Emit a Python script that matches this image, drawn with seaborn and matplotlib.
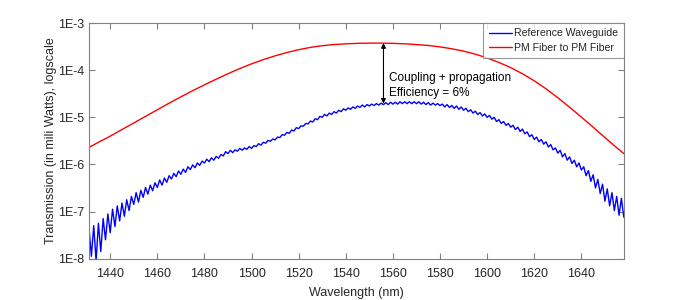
"""
Transmission spectrum: reference waveguide vs PM fiber-to-fiber
Output: out.png
"""

import matplotlib.pyplot as plt
import matplotlib.ticker as mticker
import numpy as np
import pandas as pd
import seaborn as sns

# Red curve (PM fiber to PM fiber), log10 of mW, read every 5 nm
red_wl = [1431, 1435, 1440, 1445, 1450, 1455, 1460, 1465, 1470, 1475,
          1480, 1485, 1490, 1495, 1500, 1505, 1510, 1515, 1520, 1525,
          1530, 1535, 1540, 1545, 1550, 1555, 1560, 1565, 1570, 1575,
          1580, 1585, 1590, 1595, 1600, 1605, 1610, 1615, 1620, 1625,
          1630, 1635, 1640, 1645, 1650, 1655, 1658]
red_log = [-5.640, -5.530, -5.400, -5.260, -5.120, -4.980, -4.840, -4.700, -4.565, -4.435,
           -4.310, -4.190, -4.075, -3.965, -3.865, -3.775, -3.695, -3.625, -3.565, -3.515,
           -3.480, -3.455, -3.440, -3.430, -3.425, -3.425, -3.430, -3.440, -3.455, -3.475,
           -3.505, -3.545, -3.595, -3.660, -3.740, -3.835, -3.945, -4.075, -4.225, -4.395,
           -4.585, -4.785, -4.995, -5.210, -5.430, -5.645, -5.770]

# Blue curve (reference waveguide), log10 of mW, read every 1 nm from 1431 to 1658
blue_wl = list(range(1431, 1659))
blue_log = [
    -7.35, -7.95, -7.30, -8.05, -7.25, -7.85, -7.15, -7.60, -7.05, -7.45,  # 1431-1440
    -6.95, -7.32, -6.88, -7.20, -6.82, -7.10, -6.75, -6.98, -6.68, -6.85,  # 1441-1450
    -6.60, -6.80, -6.55, -6.70, -6.49, -6.63, -6.44, -6.56, -6.39, -6.49,  # 1451-1460
    -6.33, -6.44, -6.29, -6.38, -6.24, -6.31, -6.19, -6.26, -6.14, -6.21,  # 1461-1470
    -6.10, -6.17, -6.05, -6.11, -6.01, -6.07, -5.97, -6.02, -5.93, -5.97,  # 1471-1480
    -5.89, -5.94, -5.86, -5.91, -5.83, -5.87, -5.79, -5.82, -5.73, -5.77,  # 1481-1490
    -5.70, -5.75, -5.69, -5.72, -5.66, -5.70, -5.65, -5.68, -5.62, -5.66,  # 1491-1500
    -5.60, -5.62, -5.56, -5.59, -5.53, -5.55, -5.49, -5.51, -5.46, -5.48,  # 1501-1510
    -5.42, -5.43, -5.37, -5.38, -5.32, -5.34, -5.27, -5.29, -5.22, -5.24,  # 1511-1520
    -5.18, -5.19, -5.13, -5.14, -5.08, -5.10, -5.03, -5.05, -4.98, -5.00,  # 1521-1530
    -4.94, -4.97, -4.91, -4.94, -4.88, -4.91, -4.85, -4.88, -4.82, -4.85,  # 1531-1540
    -4.80, -4.83, -4.78, -4.81, -4.76, -4.79, -4.74, -4.78, -4.73, -4.76,  # 1541-1550
    -4.72, -4.75, -4.71, -4.74, -4.70, -4.73, -4.69, -4.73, -4.68, -4.72,  # 1551-1560
    -4.68, -4.72, -4.67, -4.71, -4.67, -4.71, -4.67, -4.71, -4.67, -4.71,  # 1561-1570
    -4.67, -4.72, -4.68, -4.73, -4.69, -4.74, -4.70, -4.74, -4.71, -4.75,  # 1571-1580
    -4.72, -4.78, -4.73, -4.79, -4.75, -4.81, -4.76, -4.83, -4.78, -4.85,  # 1581-1590
    -4.81, -4.88, -4.84, -4.91, -4.87, -4.94, -4.90, -4.97, -4.93, -5.00,  # 1591-1600
    -4.96, -5.04, -5.00, -5.09, -5.05, -5.13, -5.09, -5.17, -5.13, -5.21,  # 1601-1610
    -5.17, -5.26, -5.21, -5.30, -5.25, -5.35, -5.31, -5.41, -5.37, -5.47,  # 1611-1620
    -5.42, -5.52, -5.47, -5.57, -5.52, -5.63, -5.58, -5.69, -5.65, -5.76,  # 1621-1630
    -5.70, -5.84, -5.77, -5.91, -5.84, -5.98, -5.91, -6.05, -5.97, -6.12,  # 1631-1640
    -6.05, -6.24, -6.13, -6.36, -6.22, -6.50, -6.32, -6.62, -6.42, -6.78,  # 1641-1650
    -6.52, -6.88, -6.60, -6.98, -6.68, -7.08, -6.72, -7.12,                # 1651-1658
]

series_names = ['Reference Waveguide', 'PM Fiber to PM Fiber']

# Coupling arrow
arrow_wl = 1556
arrow_top_log = -3.425
arrow_bottom_log = -4.71
note_text = 'Coupling + propagation\nEfficiency = 6%'

y_ticks_log = [-8, -7, -6, -5, -4, -3]
x_ticks = [1440, 1460, 1480, 1500, 1520, 1540, 1560, 1580, 1600, 1620, 1640]

df_blue = pd.DataFrame({'wl': blue_wl, 'P': 10.0 ** np.array(blue_log)})
df_red = pd.DataFrame({'wl': red_wl, 'P': 10.0 ** np.array(red_log)})

sns.set_style('white')
plt.rcParams['font.family'] = ['Liberation Sans', 'DejaVu Sans']

fig = plt.figure(figsize=(6.9, 3.0), dpi=100)
ax = fig.add_axes([0.129, 0.138, 0.775, 0.785])

sns.lineplot(data=df_blue, x='wl', y='P', color='#0000ff', lw=1.0,
             label=series_names[0], ax=ax)
sns.lineplot(data=df_red, x='wl', y='P', color='#ff0000', lw=1.0,
             label=series_names[1], ax=ax)

ax.set_yscale('log')
ax.set_ylim(1e-8, 1e-3)
ax.set_xlim(1431, 1658)

ax.set_yticks([10.0 ** v for v in y_ticks_log])
ax.yaxis.set_major_formatter(mticker.FixedFormatter([f'1E{v}' for v in y_ticks_log]))
ax.yaxis.set_minor_locator(mticker.NullLocator())
ax.set_xticks(x_ticks)

axis_gray = '#808080'
text_gray = '#262626'
for side in ['left', 'right', 'top', 'bottom']:
    ax.spines[side].set_visible(True)
    ax.spines[side].set_color(axis_gray)
    ax.spines[side].set_linewidth(0.8)
ax.tick_params(axis='both', which='both', direction='in', length=4, width=0.8,
               color=axis_gray, labelcolor=text_gray, labelsize=9,
               top=True, right=True, left=True, bottom=True)
ax.tick_params(axis='x', pad=7)

ax.set_xlabel('Wavelength (nm)', fontsize=9, color=text_gray, labelpad=5)
ax.set_ylabel('Transmission (in mili Watts), logscale', fontsize=9,
              color=text_gray, labelpad=1)

# Double-headed arrow between the two curves
ax.annotate('', xy=(arrow_wl, 10.0 ** arrow_top_log),
            xytext=(arrow_wl, 10.0 ** arrow_bottom_log),
            arrowprops=dict(arrowstyle='<|-|>', color='black', lw=0.8,
                            shrinkA=0, shrinkB=0, mutation_scale=7))
ax.text(arrow_wl + 2.5, 10.0 ** ((arrow_top_log + arrow_bottom_log) / 2 - 0.25),
        note_text, fontsize=8.5, color='black', ha='left', va='center',
        linespacing=1.35)

leg = ax.legend(loc='upper right', fontsize=7.6, frameon=True, fancybox=False,
                borderaxespad=0.0, handlelength=2.2, handletextpad=0.25,
                borderpad=0.5, labelspacing=0.4)
leg.get_frame().set_edgecolor(axis_gray)
leg.get_frame().set_linewidth(0.8)

fig.savefig('out.png', dpi=100, facecolor='white')
